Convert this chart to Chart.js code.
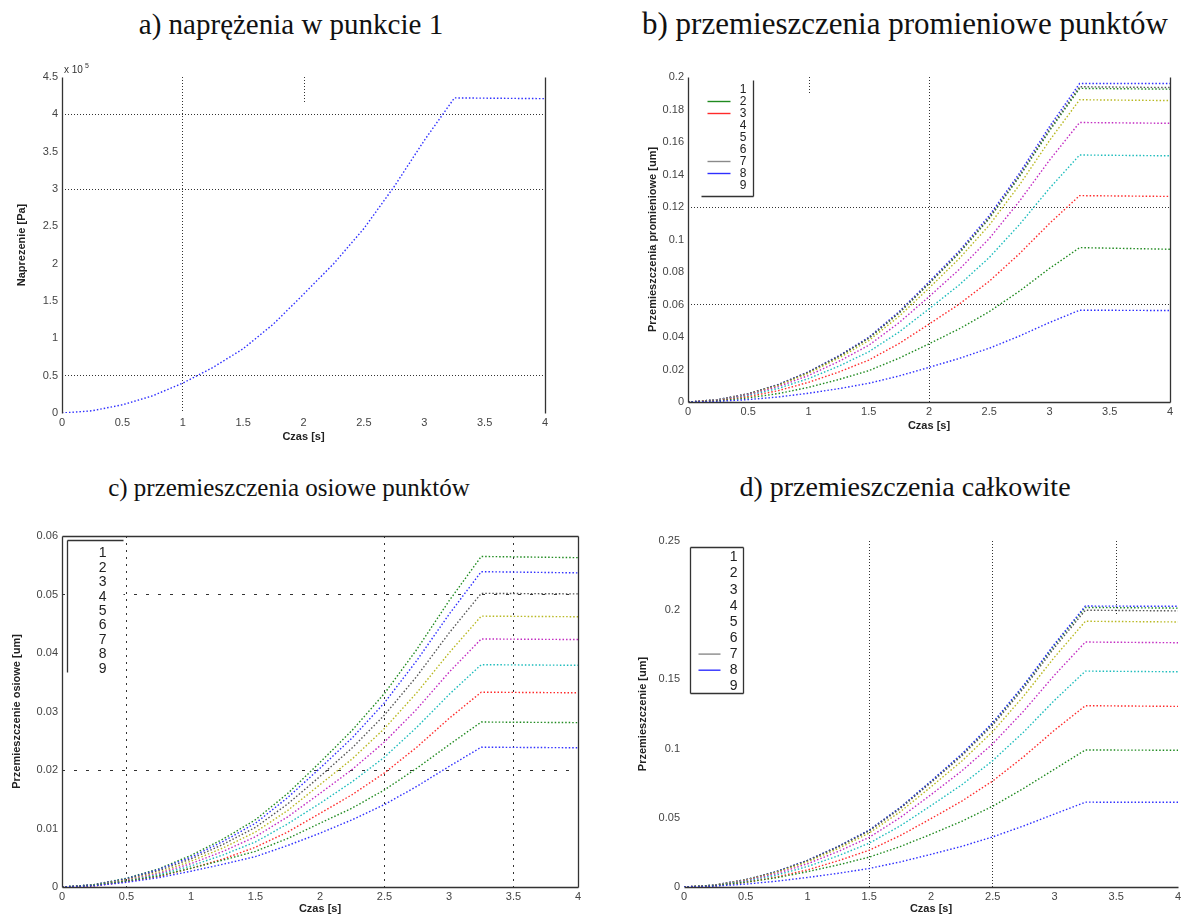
<!DOCTYPE html>
<html>
<head>
<meta charset="utf-8">
<script src="https://cdn.jsdelivr.net/npm/chart.js@4.4.1/dist/chart.umd.min.js"></script>
<style>
body { margin: 0; background: #fff; width: 1185px; height: 916px; position: relative; overflow: hidden; }
.tytul { position: absolute; font-family: "Liberation Serif", "Times New Roman", serif; color: #111; white-space: nowrap; transform: translateX(-50%); }
.wykres { position: absolute; }
</style>
</head>
<body>
<div class="tytul" style="left:291px;top:8px;font-size:29px">a) naprężenia w punkcie 1</div>
<div class="tytul" style="left:905px;top:6px;font-size:31px">b) przemieszczenia promieniowe punktów</div>
<div class="tytul" style="left:289px;top:474px;font-size:25px">c) przemieszczenia osiowe punktów</div>
<div class="tytul" style="left:905px;top:471px;font-size:28px">d) przemieszczenia całkowite</div>

<div class="wykres" style="left:0px;top:55px;width:560px;height:389px"><canvas id="wykresA"></canvas></div>
<div class="wykres" style="left:640px;top:55px;width:545px;height:378px"><canvas id="wykresB"></canvas></div>
<div class="wykres" style="left:0px;top:515px;width:600px;height:401px"><canvas id="wykresC"></canvas></div>
<div class="wykres" style="left:630px;top:515px;width:555px;height:401px"><canvas id="wykresD"></canvas></div>

<script>
// czas [s]
var czas = [0, 0.25, 0.5, 0.75, 1, 1.25, 1.5, 1.75, 2, 2.25, 2.5, 2.75, 3, 3.25, 4];
var punkty = ["1", "2", "3", "4", "5", "6", "7", "8", "9"];

// a) naprezenie w punkcie 1 [x 10^5 Pa]
var naprezenie = [0, 0.03, 0.11, 0.23, 0.40, 0.61, 0.86, 1.19, 1.59, 2.0, 2.47, 3.03, 3.65, 4.22, 4.21];

// b) przemieszczenia promieniowe [um], punkty 1..9
var promieniowe = [
   [0, 0.0004, 0.0015, 0.0031, 0.0054, 0.0082, 0.0115, 0.016, 0.0213, 0.0268, 0.0331, 0.0406, 0.0489, 0.0565, 0.0563],
   [0, 0.0007, 0.0025, 0.0052, 0.009, 0.0138, 0.0193, 0.0269, 0.0358, 0.045, 0.0556, 0.0682, 0.0822, 0.095, 0.094],
   [0, 0.0009, 0.0033, 0.007, 0.0121, 0.0184, 0.0258, 0.0359, 0.0479, 0.0602, 0.0743, 0.0912, 0.1099, 0.127, 0.1265],
   [0, 0.0011, 0.004, 0.0084, 0.0144, 0.022, 0.0309, 0.043, 0.0573, 0.072, 0.0889, 0.1091, 0.1315, 0.152, 0.1515],
   [0, 0.0012, 0.0045, 0.0095, 0.0163, 0.0249, 0.0349, 0.0487, 0.0648, 0.0815, 0.1006, 0.1235, 0.1488, 0.172, 0.1715],
   [0, 0.0013, 0.0048, 0.0102, 0.0177, 0.027, 0.0378, 0.0526, 0.0701, 0.0882, 0.1088, 0.1335, 0.1609, 0.186, 0.1855],
   [0, 0.0014, 0.005, 0.0107, 0.0184, 0.0281, 0.0394, 0.0549, 0.0731, 0.092, 0.1135, 0.1393, 0.1678, 0.194, 0.1935],
   [0, 0.0014, 0.0051, 0.0108, 0.0186, 0.0284, 0.0398, 0.0555, 0.0739, 0.0929, 0.1147, 0.1407, 0.1695, 0.196, 0.196],
   [0, 0.0014, 0.005, 0.0106, 0.0183, 0.028, 0.0392, 0.0546, 0.0728, 0.0915, 0.1129, 0.1386, 0.1669, 0.193, 0.1925]
];

// c) przemieszczenia osiowe [um]
var osiowe = [
   [0, 0.0002, 0.0008, 0.0016, 0.0027, 0.0039, 0.0052, 0.0071, 0.0092, 0.0115, 0.0141, 0.0172, 0.0206, 0.0239, 0.0238],
   [0, 0.0003, 0.001, 0.0019, 0.0032, 0.0046, 0.0061, 0.0083, 0.0109, 0.0135, 0.0166, 0.0203, 0.0243, 0.0282, 0.0281],
   [0, 0.0002, 0.0009, 0.0018, 0.0032, 0.0048, 0.0068, 0.0094, 0.0126, 0.0158, 0.0195, 0.0239, 0.0288, 0.0333, 0.0332],
   [0, 0.0003, 0.001, 0.0021, 0.0036, 0.0055, 0.0077, 0.0108, 0.0143, 0.018, 0.0222, 0.0273, 0.0329, 0.038, 0.0379],
   [0, 0.0003, 0.0011, 0.0023, 0.004, 0.0061, 0.0086, 0.012, 0.016, 0.0201, 0.0248, 0.0304, 0.0367, 0.0424, 0.0423],
   [0, 0.0003, 0.0012, 0.0025, 0.0044, 0.0067, 0.0094, 0.0131, 0.0175, 0.0219, 0.0271, 0.0332, 0.04, 0.0463, 0.0462],
   [0, 0.0004, 0.0013, 0.0028, 0.0048, 0.0073, 0.0102, 0.0142, 0.0189, 0.0238, 0.0294, 0.036, 0.0434, 0.0502, 0.0501],
   [0, 0.0004, 0.0014, 0.003, 0.0051, 0.0078, 0.0109, 0.0153, 0.0203, 0.0255, 0.0315, 0.0387, 0.0466, 0.0539, 0.0537],
   [0, 0.0004, 0.0015, 0.0031, 0.0054, 0.0082, 0.0115, 0.016, 0.0213, 0.0268, 0.0331, 0.0406, 0.0489, 0.0565, 0.0563]
];

// d) przemieszczenia calkowite [um]
var calkowite = [
   [0, 0.0006, 0.0021, 0.0042, 0.0069, 0.0099, 0.0134, 0.0181, 0.0236, 0.0294, 0.0362, 0.0441, 0.0527, 0.0613, 0.0612],
   [0, 0.001, 0.0034, 0.0067, 0.0111, 0.016, 0.0216, 0.0292, 0.0381, 0.0475, 0.0584, 0.0713, 0.0851, 0.099, 0.0988],
   [0, 0.0009, 0.0034, 0.0072, 0.0124, 0.019, 0.0266, 0.0371, 0.0494, 0.0621, 0.0766, 0.0941, 0.1133, 0.131, 0.1305],
   [0, 0.0011, 0.0041, 0.0086, 0.0148, 0.0226, 0.0317, 0.0441, 0.0588, 0.0739, 0.0913, 0.112, 0.1349, 0.156, 0.1555],
   [0, 0.0012, 0.0046, 0.0097, 0.0168, 0.0257, 0.0359, 0.0501, 0.0667, 0.0839, 0.1035, 0.1271, 0.1531, 0.177, 0.1765],
   [0, 0.0013, 0.005, 0.0106, 0.0182, 0.0278, 0.039, 0.0543, 0.0724, 0.091, 0.1123, 0.1379, 0.1661, 0.192, 0.1915],
   [0, 0.0014, 0.0052, 0.011, 0.019, 0.029, 0.0406, 0.0566, 0.0754, 0.0948, 0.117, 0.1436, 0.173, 0.2, 0.1995],
   [0, 0.0014, 0.0053, 0.0112, 0.0193, 0.0294, 0.0412, 0.0574, 0.0765, 0.0962, 0.1188, 0.1458, 0.1756, 0.203, 0.2028],
   [0, 0.0014, 0.0053, 0.0111, 0.0192, 0.0293, 0.041, 0.0572, 0.0762, 0.0957, 0.1182, 0.145, 0.1747, 0.202, 0.2015]
];

// kolejnosc kolorow jak w matlabie
var kolory = ["#2f2fff", "#1f8a1f", "#ff2a2a", "#1cbcbc", "#c22ac2", "#b8b820", "#555555", "#2f2fff", "#1f8a1f"];

var czcionka = "'Liberation Sans', Arial, sans-serif";

function zbiory(serie) {
   return serie.map(function (y, i) {
      return {
         label: punkty[i],
         data: czas.map(function (t, j) { return { x: t, y: y[j] }; }),
         borderColor: kolory[i],
         borderWidth: 1.4,
         borderDash: [1.5, 2],
         pointRadius: 0,
         tension: 0,
         fill: false
      };
   });
}

function siatka(wartosci) {
   return function (c) {
      var v = c.tick ? c.tick.value : null;
      for (var i = 0; i < wartosci.length; i++) {
         if (Math.abs(v - wartosci[i]) < 1e-9) return "#333";
      }
      return "rgba(0,0,0,0)";
   };
}

function etykieta(v) {
   return String(+v.toFixed(4));
}

function bok(ctx, x, y, w, h, boki) {
   ctx.beginPath();
   if (boki.indexOf("t") >= 0) { ctx.moveTo(x, y); ctx.lineTo(x + w, y); }
   if (boki.indexOf("b") >= 0) { ctx.moveTo(x, y + h); ctx.lineTo(x + w, y + h); }
   if (boki.indexOf("l") >= 0) { ctx.moveTo(x, y); ctx.lineTo(x, y + h); }
   if (boki.indexOf("r") >= 0) { ctx.moveTo(x + w, y); ctx.lineTo(x + w, y + h); }
   ctx.stroke();
}

// ramka osi, krotkie linie siatki, legenda wewnatrz wykresu
var ramka = {
   id: "ramka",
   afterDatasetsDraw: function (chart, args, opts) {
      var ctx = chart.ctx, a = chart.chartArea, sx = chart.scales.x;
      ctx.save();
      ctx.strokeStyle = "#333";
      ctx.lineWidth = 1;
      (opts.kreski || []).forEach(function (k) {
         var px = Math.round(sx.getPixelForValue(k.x)) + 0.5;
         ctx.setLineDash([1, 2]);
         ctx.beginPath();
         ctx.moveTo(px, a.top);
         ctx.lineTo(px, a.top + k.dl);
         ctx.stroke();
      });
      ctx.setLineDash([]);
      ctx.lineWidth = 1.3;
      bok(ctx, Math.round(a.left) + 0.5, Math.round(a.top) + 0.5, Math.round(a.right - a.left), Math.round(a.bottom - a.top), opts.boki || "");

      var L = opts.legenda;
      if (L) {
         var bx = Math.round(a.left + L.x) + 0.5, by = Math.round(a.top + L.y) + 0.5;
         ctx.fillStyle = "#fff";
         ctx.fillRect(bx, by, L.w, L.h);
         ctx.strokeStyle = "#333";
         bok(ctx, bx, by, L.w, L.h, L.boki);
         ctx.font = L.rozmiar + "px " + czcionka;
         ctx.textAlign = "right";
         ctx.textBaseline = "middle";
         chart.data.datasets.forEach(function (ds, i) {
            var ry = by + L.pierwszy + i * L.wiersz;
            ctx.fillStyle = "#222";
            ctx.fillText(ds.label, bx + L.tx, ry);
            if (L.linie.indexOf(i) >= 0) {
               ctx.strokeStyle = i === 6 ? "#8a8a8a" : ds.borderColor;
               ctx.lineWidth = 1.4;
               ctx.beginPath();
               ctx.moveTo(bx + L.l0, ry);
               ctx.lineTo(bx + L.l1, ry);
               ctx.stroke();
            }
         });
      }

      if (opts.wykladnik) {
         ctx.fillStyle = "#333";
         ctx.textAlign = "left";
         ctx.textBaseline = "alphabetic";
         ctx.font = "10px " + czcionka;
         ctx.fillText("x 10", a.left + 2, a.top - 4);
         ctx.font = "7px " + czcionka;
         ctx.fillText(opts.wykladnik, a.left + 23, a.top - 9);
      }
      ctx.restore();
   }
};

function osie(o) {
   return {
      x: {
         type: "linear", min: 0, max: 4,
         afterFit: function (s) { s.height = o.xh; },
         ticks: { stepSize: 0.5, padding: 3, color: "#444", autoSkip: false, maxRotation: 0, font: { family: czcionka, size: 11 }, callback: etykieta },
         grid: { drawTicks: false, color: siatka(o.gx), lineWidth: 1 },
         border: { display: false, dash: o.dx },
         title: { display: true, text: "Czas [s]", color: "#222", padding: 0, font: { family: czcionka, size: 11, weight: "bold" } }
      },
      y: {
         type: "linear", min: 0, max: o.ymax,
         afterFit: function (s) { s.width = o.yw; },
         ticks: { stepSize: o.krok, padding: 4, color: "#444", autoSkip: false, font: { family: czcionka, size: 11 }, callback: etykieta },
         grid: { drawTicks: false, color: siatka(o.gy), lineWidth: 1 },
         border: { display: false, dash: o.dy },
         title: { display: true, text: o.tytul, color: "#222", padding: { top: o.tp, bottom: 0 }, font: { family: czcionka, size: 11, weight: "bold" } }
      }
   };
}

new Chart("wykresA", {
   type: "line",
   data: {
      datasets: [{
         label: "1",
         data: czas.map(function (t, j) { return { x: t, y: naprezenie[j] }; }),
         borderColor: "#2f2fff",
         borderWidth: 1.4,
         borderDash: [1.5, 2],
         pointRadius: 0,
         tension: 0,
         fill: false
      }]
   },
   options: {
      responsive: true, maintainAspectRatio: false, animation: false,
      layout: { padding: { left: 0, right: 15, top: 22, bottom: 0 } },
      scales: osie({ xh: 31, yw: 62, ymax: 4.5, krok: 0.5, gx: [1], gy: [0.5, 3, 4], dx: [1, 2], dy: [1, 2], tytul: "Naprezenie [Pa]", tp: 15 }),
      plugins: {
         legend: { display: false }, tooltip: { enabled: false },
         ramka: { boki: "lr", kreski: [{ x: 2, dl: 26 }], wykladnik: "5" }
      }
   },
   plugins: [ramka]
});

new Chart("wykresB", {
   type: "line",
   data: { datasets: zbiory(promieniowe) },
   options: {
      responsive: true, maintainAspectRatio: false, animation: false,
      layout: { padding: { left: 0, right: 15, top: 22, bottom: 0 } },
      scales: osie({ xh: 31, yw: 48, ymax: 0.2, krok: 0.02, gx: [2], gy: [0.06, 0.12], dx: [1, 2], dy: [1, 2], tytul: "Przemieszczenia promieniowe [um]", tp: 6 }),
      plugins: {
         legend: { display: false }, tooltip: { enabled: false },
         ramka: {
            boki: "lrb", kreski: [{ x: 1, dl: 18 }],
            legenda: { x: 13, y: 3, w: 52, h: 116, boki: "rb", pierwszy: 9, wiersz: 12, rozmiar: 12, tx: 45, l0: 6, l1: 29, linie: [1, 2, 6, 7] }
         }
      }
   },
   plugins: [ramka]
});

new Chart("wykresC", {
   type: "line",
   data: { datasets: zbiory(osiowe) },
   options: {
      responsive: true, maintainAspectRatio: false, animation: false,
      layout: { padding: { left: 0, right: 22, top: 21, bottom: 0 } },
      scales: osie({ xh: 29, yw: 62, ymax: 0.06, krok: 0.01, gx: [0.5, 2.5, 3.5], gy: [0.02, 0.05], dx: [2, 5], dy: [3, 9], tytul: "Przemieszczenie osiowe [um]", tp: 10 }),
      plugins: {
         legend: { display: false }, tooltip: { enabled: false },
         ramka: {
            boki: "lrtb",
            legenda: { x: 5, y: 4, w: 56, h: 132, boki: "lt", pierwszy: 13, wiersz: 14.4, rozmiar: 14, tx: 39, l0: 8, l1: 30, linie: [] }
         }
      }
   },
   plugins: [ramka]
});

new Chart("wykresD", {
   type: "line",
   data: { datasets: zbiory(calkowite) },
   options: {
      responsive: true, maintainAspectRatio: false, animation: false,
      layout: { padding: { left: 0, right: 7, top: 26, bottom: 0 } },
      scales: osie({ xh: 29, yw: 54, ymax: 0.25, krok: 0.05, gx: [1.5, 2.5], gy: [], dx: [1, 2], dy: [1, 2], tytul: "Przemieszczenie [um]", tp: 6 }),
      plugins: {
         legend: { display: false }, tooltip: { enabled: false },
         ramka: {
            boki: "b", kreski: [{ x: 3.5, dl: 75 }],
            legenda: { x: 6, y: 6, w: 53, h: 146, boki: "lrtb", pierwszy: 10, wiersz: 16.1, rozmiar: 14, tx: 47, l0: 8, l1: 30, linie: [6, 7] }
         }
      }
   },
   plugins: [ramka]
});
</script>
</body>
</html>
